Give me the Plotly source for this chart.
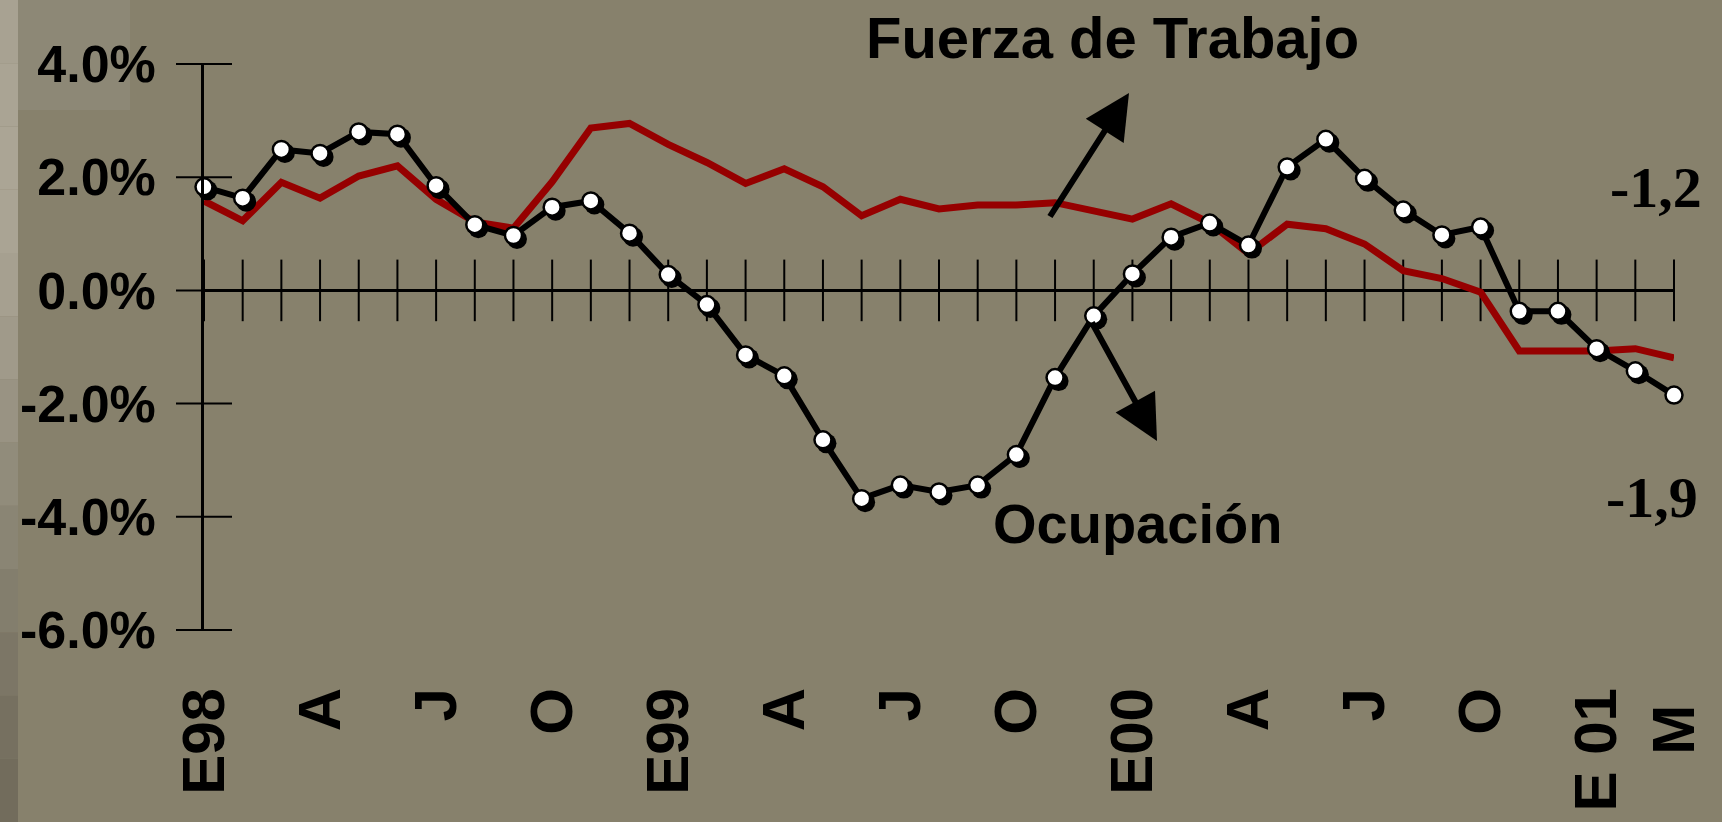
import plotly.graph_objects as go

# ---------------- data ----------------
months = [
    "E98", "F98", "M98", "A98", "My98", "Jn98", "Jl98", "Ag98", "S98", "O98", "N98", "D98",
    "E99", "F99", "M99", "A99", "My99", "Jn99", "Jl99", "Ag99", "S99", "O99", "N99", "D99",
    "E00", "F00", "M00", "A00", "My00", "Jn00", "Jl00", "Ag00", "S00", "O00", "N00", "D00",
    "E01", "F01", "M01",
]
ocupacion = [
    1.83, 1.63, 2.49, 2.42, 2.80, 2.76, 1.85, 1.16, 0.97, 1.47, 1.58, 1.01,
    0.28, -0.25, -1.14, -1.51, -2.64, -3.68, -3.44, -3.56, -3.44, -2.90, -1.54, -0.45,
    0.29, 0.94, 1.19, 0.80, 2.18, 2.67, 1.98, 1.42, 0.98, 1.12, -0.37, -0.37,
    -1.03, -1.42, -1.85,
]
fuerza_trabajo = [
    1.58, 1.23, 1.91, 1.63, 2.02, 2.20, 1.61, 1.21, 1.10, 1.92, 2.87, 2.95,
    2.58, 2.26, 1.89, 2.15, 1.83, 1.32, 1.61, 1.44, 1.51, 1.51, 1.55, 1.41,
    1.26, 1.53, 1.19, 0.65, 1.17, 1.09, 0.82, 0.35, 0.21, -0.03, -1.07, -1.07,
    -1.07, -1.03, -1.19,
]
xtick_cats = ["E98", "A98", "Jl98", "O98", "E99", "A99", "Jl99", "O99",
              "E00", "A00", "Jl00", "O00", "E01", "M01"]
xtick_text = ["E98", "A", "J", "O", "E99", "A", "J", "O",
              "E00", "A", "J", "O", "E 01", "M"]
ytick_vals = [-6, -4, -2, 0, 2, 4]
ytick_text = ["-6.0%", "-4.0%", "-2.0%", "0.0%", "2.0%", "4.0%"]
zero_base = [0] * len(months)
label_fuerza = "-1,2"
label_ocup = "-1,9"

# ---------------- geometry / style ----------------
W, H = 1722, 822
ML, MR, MT, MB = 204, 48, 64, 192
PW, PH = W - ML - MR, H - MT - MB
BG = "rgb(135,129,108)"
RED = "rgb(150,0,0)"
SANS = "Liberation Sans, Arial"
SERIF = "Liberation Serif, Times New Roman, serif"

xr = [0, len(months) - 1]
yr = [-6, 4]
px_per_x = PW / (xr[1] - xr[0])
px_per_y = PH / (yr[1] - yr[0])
sh = 3.5  # shadow offset in px
xr_sh = [xr[0] - sh / px_per_x, xr[1] - sh / px_per_x]
yr_sh = [yr[0] + sh / px_per_y, yr[1] + sh / px_per_y]


def px(xp):
    return (xp - ML) / PW


def py(yp):
    return (H - MB - yp) / PH


# lower the last label a little, as in the original
tick_pad = {"M": "&nbsp;"}
xtick_html = ["<b>" + t + tick_pad.get(t, "") + "</b>" for t in xtick_text]

fig = go.Figure()

# crossing tick marks on zero line
fig.add_trace(go.Scatter(
    x=months, y=zero_base, mode="markers", cliponaxis=False, hoverinfo="skip",
    marker=dict(symbol="line-ns", size=44, line=dict(color="black", width=2)),
    showlegend=False))
# crossing tick marks on y axis
fig.add_trace(go.Scatter(
    x=[months[0]] * len(ytick_vals), y=ytick_vals, mode="markers", cliponaxis=False,
    hoverinfo="skip",
    marker=dict(symbol="line-ew", size=40, line=dict(color="black", width=2)),
    showlegend=False))
# Fuerza de Trabajo
fig.add_trace(go.Scatter(
    x=months, y=fuerza_trabajo, mode="lines", cliponaxis=False,
    line=dict(color=RED, width=7), name="Fuerza de Trabajo", showlegend=False))
# shadow of Ocupación markers
fig.add_trace(go.Scatter(
    x=months, y=ocupacion, mode="markers", xaxis="x2", yaxis="y2", cliponaxis=False,
    marker=dict(symbol="circle", size=20, color="black", line=dict(width=0)),
    hoverinfo="skip", showlegend=False))
# Ocupación
fig.add_trace(go.Scatter(
    x=months, y=ocupacion, mode="lines+markers", xaxis="x3", yaxis="y3", cliponaxis=False,
    line=dict(color="black", width=6),
    marker=dict(symbol="circle", size=17, color="white", line=dict(color="black", width=2.5)),
    name="Ocupación", showlegend=False))

annotations = [
    dict(text="<b>Fuerza de Trabajo</b>", x=px(864), y=py(37), xref="paper", yref="paper",
         xanchor="left", yanchor="middle", showarrow=False,
         font=dict(family=SANS, size=58, color="black")),
    dict(text="<b>Ocupación</b>", x=px(991), y=py(523), xref="paper", yref="paper",
         xanchor="left", yanchor="middle", showarrow=False,
         font=dict(family=SANS, size=56, color="black")),
    dict(text="<b>" + label_fuerza + "</b>", x=px(1704), y=py(187), xref="paper", yref="paper",
         xanchor="right", yanchor="middle", showarrow=False,
         font=dict(family=SERIF, size=58, color="black")),
    dict(text="<b>" + label_ocup + "</b>", x=px(1700), y=py(497), xref="paper", yref="paper",
         xanchor="right", yanchor="middle", showarrow=False,
         font=dict(family=SERIF, size=58, color="black")),
    # arrows
    dict(text="", x=px(1129), y=py(93), xref="paper", yref="paper",
         ax=-80, ay=125, axref="pixel", ayref="pixel", showarrow=True,
         arrowhead=2, arrowsize=1.5, arrowwidth=6, arrowcolor="black"),
    dict(text="", x=px(1157), y=py(441), xref="paper", yref="paper",
         ax=-66, ay=-120, axref="pixel", ayref="pixel", showarrow=True,
         arrowhead=2, arrowsize=1.5, arrowwidth=6, arrowcolor="black"),
]

shapes = [
    # lighter top-left panel
    dict(type="rect", xref="paper", yref="paper", x0=px(18), x1=px(130), y0=py(110), y1=py(0),
         fillcolor="rgb(141,136,118)", line=dict(width=0), layer="below"),
]
# left strip with vertical gradient (bands)
strip_cols = ["rgb(168,162,146)", "rgb(170,164,148)", "rgb(171,165,149)", "rgb(170,164,148)",
              "rgb(166,160,144)", "rgb(160,154,138)", "rgb(153,147,131)", "rgb(145,140,123)",
              "rgb(138,133,116)", "rgb(131,126,109)", "rgb(124,118,102)", "rgb(118,112,96)",
              "rgb(114,108,92)"]
nb = len(strip_cols)
for i, c in enumerate(strip_cols):
    shapes.append(dict(type="rect", xref="paper", yref="paper", x0=px(0), x1=px(18),
                       y0=py(H * (i + 1) / nb), y1=py(H * i / nb),
                       fillcolor=c, line=dict(width=0), layer="below"))

fig.update_layout(
    width=W, height=H,
    margin=dict(l=ML, r=MR, t=MT, b=MB, pad=0, autoexpand=False),
    paper_bgcolor=BG, plot_bgcolor=BG,
    showlegend=False,
    xaxis=dict(type="category", range=xr, showgrid=False, zeroline=False, showline=False,
               automargin=False,
               tickmode="array", tickvals=xtick_cats, ticktext=xtick_html,
               tickangle=-90, ticks="", ticklabelstandoff=45,
               tickfont=dict(family=SANS, size=60, color="black")),
    yaxis=dict(range=yr, showgrid=False, zeroline=True, zerolinecolor="black", zerolinewidth=2.5,
               showline=True, linecolor="black", linewidth=2.5, ticks="", automargin=False,
               tickmode="array", tickvals=ytick_vals, ticktext=["<b>" + t + "</b>" for t in ytick_text],
               ticklabelstandoff=35,
               tickfont=dict(family=SANS, size=52, color="black")),
    xaxis2=dict(type="category", overlaying="x", range=xr_sh, visible=False),
    yaxis2=dict(overlaying="y", range=yr_sh, visible=False),
    xaxis3=dict(type="category", overlaying="x", range=xr, visible=False),
    yaxis3=dict(overlaying="y", range=yr, visible=False),
    annotations=annotations,
    shapes=shapes,
)

fig.write_html("out.html", config={"displayModeBar": False},
               post_script="document.body.style.margin='0';document.body.style.background='" + BG + "';")
